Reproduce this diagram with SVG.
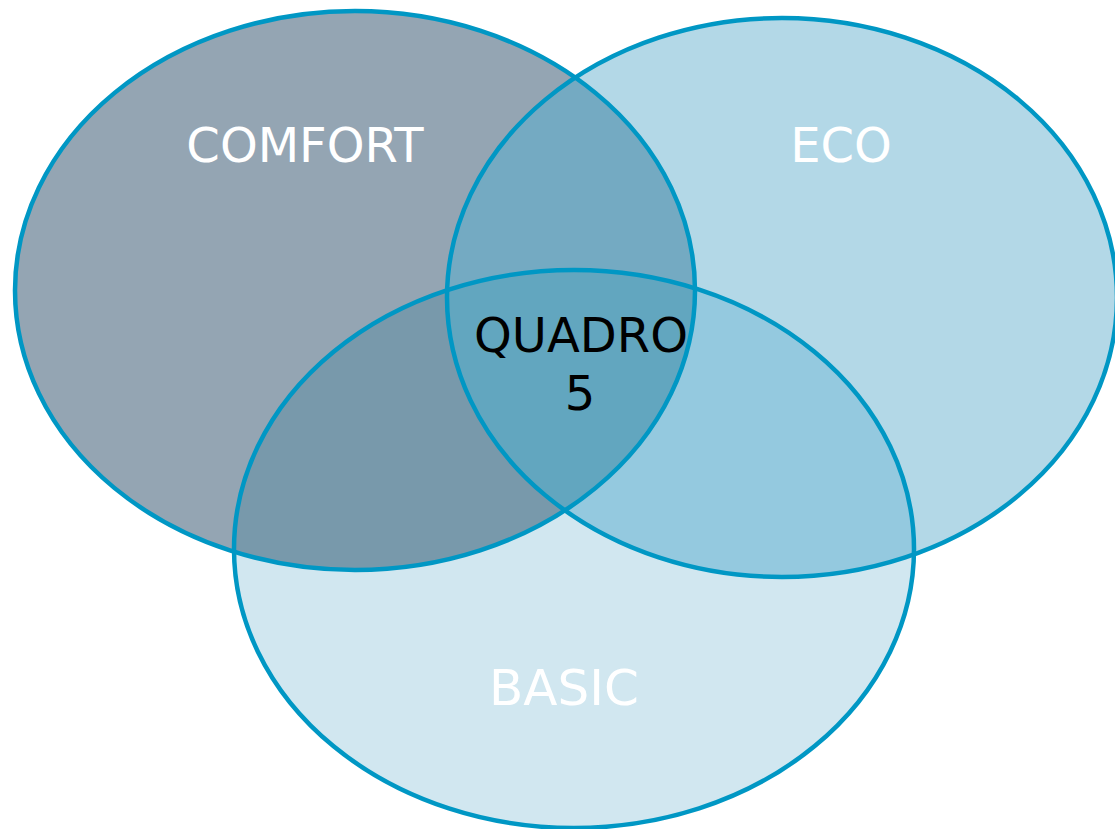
<svg xmlns="http://www.w3.org/2000/svg" width="1115" height="829" viewBox="0 0 1115 829">
<style>
.edge{fill:none;stroke:#0097c4;stroke-width:4.5}
.lbl{font-family:"DejaVu Sans","Liberation Sans",sans-serif;font-size:48px;text-anchor:middle;fill:#ffffff}
.dark{fill:#000000}
</style>
<defs>
<clipPath id="cC"><ellipse cx="355" cy="290.5" rx="340" ry="279.5"/></clipPath>
<clipPath id="cE"><ellipse cx="782" cy="297.5" rx="335" ry="279.5"/></clipPath>
</defs>
<rect width="1115" height="829" fill="#ffffff"/>
<g id="fills">
<ellipse cx="355" cy="290.5" rx="340" ry="279.5" fill="#94a5b3"/>
<ellipse cx="782" cy="297.5" rx="335" ry="279.5" fill="#b3d8e7"/>
<ellipse cx="574" cy="549" rx="340" ry="279" fill="#d1e7f0"/>
<ellipse cx="782" cy="297.5" rx="335" ry="279.5" fill="#74aac2" clip-path="url(#cC)"/>
<ellipse cx="574" cy="549" rx="340" ry="279" fill="#7899ab" clip-path="url(#cC)"/>
<ellipse cx="574" cy="549" rx="340" ry="279" fill="#94c9df" clip-path="url(#cE)"/>
<g clip-path="url(#cC)"><ellipse cx="574" cy="549" rx="340" ry="279" fill="#62a6bf" clip-path="url(#cE)"/></g>
</g>
<g id="comfort">
<ellipse class="edge" cx="355" cy="290.5" rx="340" ry="279.5"/>
<text class="lbl" x="305" y="162">COMFORT</text>
</g>
<g id="eco">
<ellipse class="edge" cx="782" cy="297.5" rx="335" ry="279.5"/>
<text class="lbl" x="841" y="162">ECO</text>
</g>
<g id="basic">
<ellipse class="edge" cx="574" cy="549" rx="340" ry="279"/>
<text class="lbl" x="564" y="705" style="font-size:50px">BASIC</text>
</g>
<g id="quadro">
<text class="lbl dark" x="581" y="352">QUADRO</text>
<text class="lbl dark" x="580" y="410">5</text>
</g>
</svg>
